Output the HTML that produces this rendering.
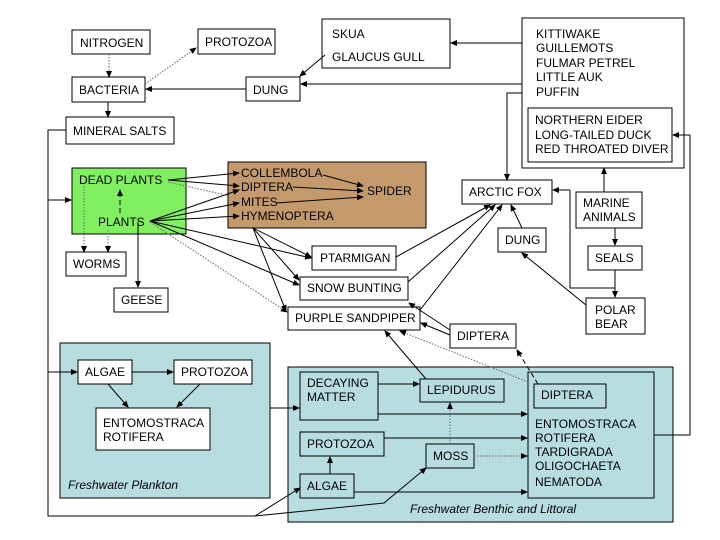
<!DOCTYPE html>
<html><head><meta charset="utf-8"><style>
body{margin:0;background:#fff}
svg{display:block}
text{font-family:"Liberation Sans",sans-serif;font-size:12px;fill:#000}
.b{fill:#fff;stroke:#000;stroke-width:1}
.l{stroke:#000;stroke-width:1;fill:none}
.d{stroke:#666;stroke-width:1;fill:none;stroke-dasharray:1.5,1.5}
.dd{stroke:#000;stroke-width:1;fill:none;stroke-dasharray:5,3}
</style></head><body>
<svg width="720" height="540" viewBox="0 0 720 540">
<defs><marker id="a" markerWidth="7" markerHeight="6" refX="6" refY="3" orient="auto" markerUnits="userSpaceOnUse"><path d="M0,0L7,3L0,6z" fill="#000"/></marker></defs>
<rect width="720" height="540" fill="#fff"/>
<rect x="60" y="343" width="210" height="155" fill="#b7dde0" stroke="#000"/>
<rect x="288" y="367" width="385" height="155" fill="#b7dde0" stroke="#000"/>
<text x="68" y="489" font-style="italic">Freshwater Plankton</text>
<text x="410" y="513" font-style="italic">Freshwater Benthic and Littoral</text>
<rect x="72" y="168" width="114" height="66" fill="#80f060" stroke="#000"/>
<rect x="228" y="162" width="198" height="66" fill="#c49a6c" stroke="#000"/>
<rect class="b" x="72" y="30" width="78" height="24"/><text x="80" y="47">NITROGEN</text>
<rect class="b" x="198" y="29" width="77" height="25"/><text x="205" y="46">PROTOZOA</text>
<rect class="b" x="72" y="77" width="73" height="25"/><text x="79" y="94">BACTERIA</text>
<rect class="b" x="66" y="117" width="108" height="27"/><text x="73" y="135">MINERAL SALTS</text>
<rect class="b" x="322" y="19" width="128" height="49"/><text x="332" y="38">SKUA</text><text x="332" y="61">GLAUCUS GULL</text>
<rect class="b" x="246" y="77" width="54" height="24"/><text x="253" y="94">DUNG</text>
<rect class="b" x="522" y="18" width="162" height="150"/>
<text x="536" y="38">KITTIWAKE</text><text x="536" y="52">GUILLEMOTS</text><text x="536" y="67">FULMAR PETREL</text><text x="536" y="81">LITTLE AUK</text><text x="536" y="96">PUFFIN</text>
<rect class="b" x="528" y="108" width="144" height="54"/>
<text x="535" y="124">NORTHERN EIDER</text><text x="535" y="139">LONG-TAILED DUCK</text><text x="535" y="153">RED THROATED DIVER</text>
<text x="79" y="184">DEAD PLANTS</text><text x="98" y="226">PLANTS</text>
<text x="241" y="177">COLLEMBOLA</text><text x="241" y="191">DIPTERA</text><text x="241" y="206">MITES</text><text x="241" y="220">HYMENOPTERA</text><text x="367" y="195">SPIDER</text>
<rect class="b" x="66" y="252" width="60" height="24"/><text x="73" y="268">WORMS</text>
<rect class="b" x="114" y="288" width="54" height="24"/><text x="121" y="304">GEESE</text>
<rect class="b" x="312" y="246" width="84" height="24"/><text x="320" y="262">PTARMIGAN</text>
<rect class="b" x="300" y="277" width="108" height="23"/><text x="307" y="292">SNOW BUNTING</text>
<rect class="b" x="288" y="307" width="132" height="23"/><text x="295" y="322">PURPLE SANDPIPER</text>
<rect class="b" x="462" y="180" width="90" height="24"/><text x="469" y="196">ARCTIC FOX</text>
<rect class="b" x="498" y="228" width="48" height="24"/><text x="505" y="244">DUNG</text>
<rect class="b" x="576" y="192" width="66" height="36"/><text x="583" y="207">MARINE</text><text x="583" y="221">ANIMALS</text>
<rect class="b" x="588" y="246" width="54" height="24"/><text x="595" y="262">SEALS</text>
<rect class="b" x="586" y="298" width="59" height="36"/><text x="595" y="314">POLAR</text><text x="595" y="328">BEAR</text>
<rect class="b" x="450" y="324" width="66" height="24"/><text x="457" y="340">DIPTERA</text>
<rect class="b" x="78" y="360" width="54" height="24"/><text x="85" y="376">ALGAE</text>
<rect class="b" x="174" y="360" width="78" height="24"/><text x="181" y="376">PROTOZOA</text>
<rect class="b" x="96" y="408" width="114" height="42"/><text x="103" y="427">ENTOMOSTRACA</text><text x="103" y="441">ROTIFERA</text>
<rect class="b" x="300" y="372" width="78" height="48" style="fill:#b7dde0"/><text x="307" y="387">DECAYING</text><text x="307" y="401">MATTER</text>
<rect class="b" x="420" y="379" width="84" height="23" style="fill:#b7dde0"/><text x="427" y="394">LEPIDURUS</text>
<rect class="b" x="528" y="372" width="126" height="126" style="fill:#b7dde0"/>
<rect class="b" x="534" y="384" width="72" height="24" style="fill:#b7dde0"/><text x="541" y="399">DIPTERA</text>
<text x="535" y="428">ENTOMOSTRACA</text><text x="535" y="442">ROTIFERA</text><text x="535" y="456">TARDIGRADA</text><text x="535" y="470">OLIGOCHAETA</text><text x="535" y="486">NEMATODA</text>
<rect class="b" x="300" y="432" width="84" height="24" style="fill:#b7dde0"/><text x="307" y="448">PROTOZOA</text>
<rect class="b" x="426" y="444" width="48" height="24" style="fill:#b7dde0"/><text x="433" y="460">MOSS</text>
<rect class="b" x="300" y="474" width="54" height="24" style="fill:#b7dde0"/><text x="307" y="490">ALGAE</text>
<path class="d" d="M109,54V77" marker-end="url(#a)"/>
<path class="d" d="M145,84L196,48" marker-end="url(#a)"/>
<path class="l" d="M108,102V117" marker-end="url(#a)"/>
<path class="l" d="M246,89H146" marker-end="url(#a)"/>
<path class="l" d="M325,55L300,76" marker-end="url(#a)"/>
<path class="l" d="M522,84H301" marker-end="url(#a)"/>
<path class="l" d="M522,43H451" marker-end="url(#a)"/>
<path class="l" d="M522,93H507V180" marker-end="url(#a)"/>
<path class="l" d="M66,130H48V516H255"/>
<path class="l" d="M48,200H71" marker-end="url(#a)"/>
<path class="l" d="M48,372H77" marker-end="url(#a)"/>
<path class="l" d="M255,516L300,488" marker-end="url(#a)"/>
<path class="l" d="M255,516L384,503L426,468" marker-end="url(#a)"/>
<path class="d" d="M84,186V252" marker-end="url(#a)"/>
<path class="d" d="M108,230V252" marker-end="url(#a)"/>
<path class="dd" d="M120,213V190" marker-end="url(#a)"/>
<path class="l" d="M138,222V287" marker-end="url(#a)"/>
<path class="l" d="M168,180L239,173" marker-end="url(#a)"/>
<path class="l" d="M168,180L239,186" marker-end="url(#a)"/>
<path class="l" d="M150,221L239,190" marker-end="url(#a)"/>
<path class="l" d="M150,221L239,203" marker-end="url(#a)"/>
<path class="l" d="M150,221L239,216" marker-end="url(#a)"/>
<path class="d" d="M168,182L230,196"/>
<path class="l" d="M323,175L363,186" marker-end="url(#a)"/>
<path class="l" d="M293,187L363,191" marker-end="url(#a)"/>
<path class="l" d="M276,203L363,197" marker-end="url(#a)"/>
<path class="l" d="M150,221L311,258" marker-end="url(#a)"/>
<path class="l" d="M150,221L299,285" marker-end="url(#a)"/>
<path class="d" d="M150,222L287,312" marker-end="url(#a)"/>
<path class="l" d="M253,228L311,257" marker-end="url(#a)"/>
<path class="l" d="M253,228L299,280" marker-end="url(#a)"/>
<path class="l" d="M253,228L286,311" marker-end="url(#a)"/>
<path class="l" d="M396,257L490,205" marker-end="url(#a)"/>
<path class="l" d="M408,282L495,205" marker-end="url(#a)"/>
<path class="l" d="M420,310L502,205" marker-end="url(#a)"/>
<path class="l" d="M522,228L511,205" marker-end="url(#a)"/>
<path class="l" d="M586,305L522,253" marker-end="url(#a)"/>
<path class="l" d="M570,190H553" marker-end="url(#a)"/>
<path class="l" d="M615,270V297" marker-end="url(#a)"/>
<path class="l" d="M570,190V288H615"/>
<path class="l" d="M604,192V168" marker-end="url(#a)"/>
<path class="l" d="M615,228V245" marker-end="url(#a)"/>
<path class="l" d="M654,435H690V135H673" marker-end="url(#a)"/>
<path class="l" d="M450,335L421,323" marker-end="url(#a)"/>
<path class="l" d="M450,330L409,303" marker-end="url(#a)"/>
<path class="dd" d="M538,384L517,350" marker-end="url(#a)"/>
<path class="d" d="M528,382L400,331" marker-end="url(#a)"/>
<path class="l" d="M426,379L385,331" marker-end="url(#a)"/>
<path class="l" d="M132,372H173" marker-end="url(#a)"/>
<path class="l" d="M108,384L128,407" marker-end="url(#a)"/>
<path class="l" d="M200,384L177,407" marker-end="url(#a)"/>
<path class="l" d="M270,408H299" marker-end="url(#a)"/>
<path class="l" d="M378,384H419" marker-end="url(#a)"/>
<path class="l" d="M378,414H527" marker-end="url(#a)"/>
<path class="l" d="M384,438H527" marker-end="url(#a)"/>
<path class="d" d="M474,456H527" marker-end="url(#a)"/>
<path class="d" d="M450,444V403" marker-end="url(#a)"/>
<path class="l" d="M330,474V457" marker-end="url(#a)"/>
<path class="l" d="M354,492H527" marker-end="url(#a)"/>
</svg>
</body></html>
